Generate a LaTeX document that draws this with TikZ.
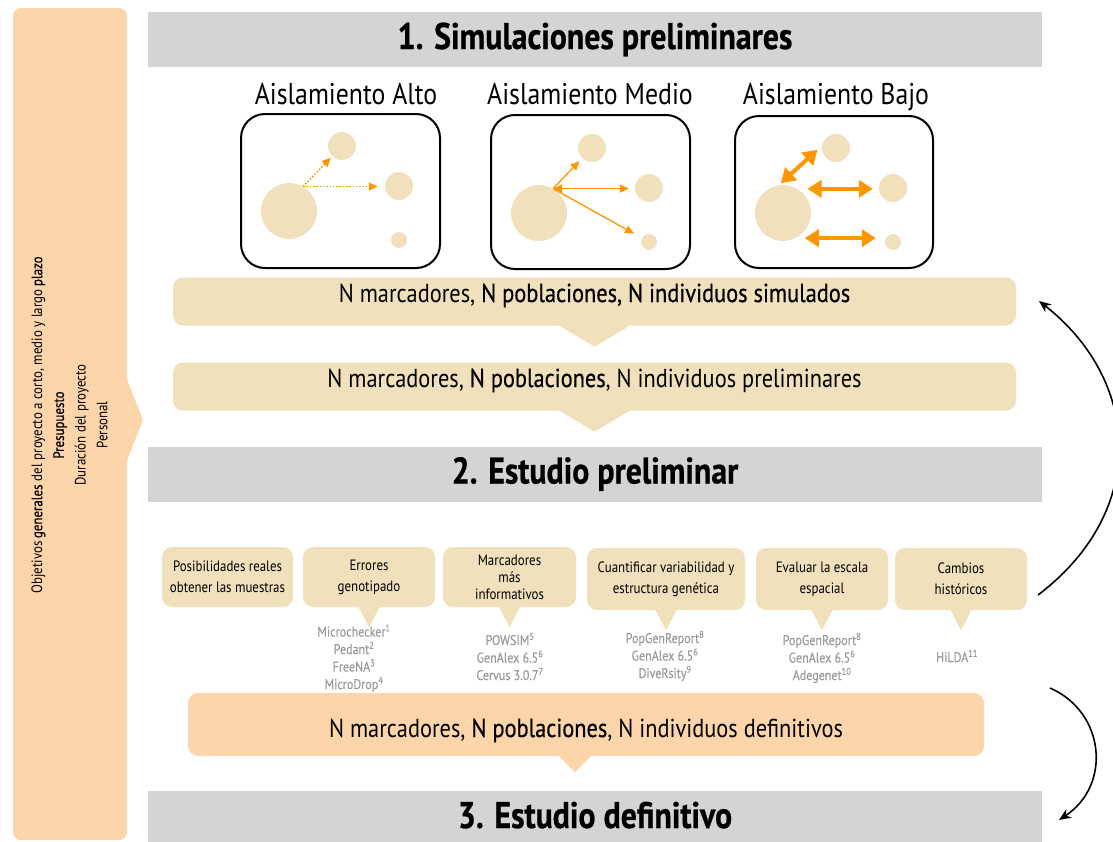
\documentclass[tikz,border=0pt]{standalone}
\usepackage{fontspec}
\setmainfont{PT Sans}[FakeStretch=0.86,BoldFeatures={FakeBold=0.6}]
\newfontfamily\semib{PT Sans}[FakeStretch=0.86,FakeBold=0.5]
\usetikzlibrary{arrows.meta}
\definecolor{hdrgray}{HTML}{D4D4D4}
\definecolor{beige}{HTML}{F0E1BC}
\definecolor{peach}{HTML}{FDD5AA}
\definecolor{orng}{HTML}{FF9500}
\definecolor{softgray}{HTML}{9B9B9B}
\begin{document}
\begin{tikzpicture}[x=1pt,y=-1pt,
 hdr/.style={fill=hdrgray,minimum width=894pt,minimum height=55pt,inner sep=0pt,text height=26pt,text depth=7pt,font=\bfseries\fontsize{37}{40}\selectfont},
 sub/.style={anchor=base,inner sep=0pt,font=\fontsize{30}{32}\selectfont},
 panel/.style={draw=black,line width=2pt,rounded corners=24pt,minimum width=199pt,minimum height=154pt,inner sep=0pt},
 blob/.style={circle,fill=beige,inner sep=0pt},
 bigbox/.style={fill=beige,rounded corners=10pt,minimum width=843pt,minimum height=48pt,inner sep=0pt},
 boxtxt/.style={anchor=base,inner sep=0pt,font=\fontsize{26}{28}\selectfont},
 smallbox/.style={fill=beige,rounded corners=10pt,minimum width=132pt,minimum height=60pt,align=center,inner sep=2pt,font=\fontsize{15}{21}\selectfont},
 soft/.style={anchor=base,align=center,inner sep=0pt,text=softgray,font=\semib\fontsize{14}{17.5}\selectfont},
 dotarrow/.style={orng,line width=1.5pt,dash pattern=on 1.5pt off 1.8pt,-{Triangle[length=9pt,width=8pt]}},
 thinarrow/.style={orng,line width=1.3pt,-{Triangle[length=9pt,width=8pt]}},
 fatarrow/.style={orng,line width=4pt,{Triangle[length=14pt,width=17pt]}-{Triangle[length=14pt,width=17pt]}},
 curvearrow/.style={black,line width=1.6pt,-{Stealth[length=12pt,width=10pt]}}
]
\useasboundingbox (0,0) rectangle (1113,841);
\clip (0,0) rectangle (1113,841);

% left bar
\fill[peach,rounded corners=8pt] (13,8) rectangle (127,840);
\fill[peach] (126,377) -- (143,420) -- (126,463) -- cycle;
\node[rotate=90,align=center,inner sep=0pt,font=\fontsize{15}{21.7}\selectfont] (lefttxt) at (69.5,425)
 {Objetivos {\semib generales} del proyecto a corto, medio y largo {\semib plazo}\\{\semib Presupuesto}\\Duración del proyecto\\Personal};

% headers
\node[hdr] (h1) at (595,39.5) {1. Simulaciones preliminares};
\node[hdr] (h2) at (595,474) {2. Estudio preliminar};
\node[hdr] (h3) at (595,818.5) {3. Estudio definitivo};

% subtitles
\node[sub] (s1) at (346,104) {Aislamiento Alto};
\node[sub] (s2) at (590,104) {Aislamiento Medio};
\node[sub] (s3) at (836,104) {Aislamiento Bajo};

% panels
\node[panel] (p1) at (340.5,191) {};
\node[panel] (p2) at (590.5,192) {};
\node[panel,minimum width=198pt,minimum height=152pt] (p3) at (834,192) {};

% circles
\node[blob,minimum size=56pt] (c1big) at (289,211) {};
\node[blob,minimum size=28pt] (c1top) at (342,146) {};
\node[blob,minimum size=28pt] (c1right) at (399,186) {};
\node[blob,minimum size=16pt] (c1small) at (399,240) {};
\node[blob,minimum size=56pt] (c2big) at (539,213) {};
\node[blob,minimum size=28pt] (c2top) at (592,148) {};
\node[blob,minimum size=28pt] (c2right) at (649,188) {};
\node[blob,minimum size=16pt] (c2small) at (649,242) {};
\node[blob,minimum size=56pt] (c3big) at (783,213) {};
\node[blob,minimum size=28pt] (c3top) at (836,148) {};
\node[blob,minimum size=28pt] (c3right) at (893,188) {};
\node[blob,minimum size=16pt] (c3small) at (893,242) {};

% panel 1 arrows
\draw[dotarrow,shorten >=2pt] (c1big.60) -- (c1top);
\draw[dotarrow,shorten >=7pt] (c1big.60) -- (c1big.60 -| c1right.west);
% panel 2 arrows
\draw[thinarrow,shorten >=4pt] (c2big.60) -- (c2top);
\draw[thinarrow,{Triangle[length=9pt,width=8pt]}-{Triangle[length=9pt,width=8pt]},shorten >=6pt] (c2big.60) -- (c2big.60 -| c2right.west);
\draw[thinarrow,shorten >=9pt] (c2big.60) -- (c2small);
% panel 3 arrows
\draw[fatarrow,shorten <=3pt,shorten >=6pt] (c3big.99) -- (c3top.171);
\draw[fatarrow,shorten <=10pt,shorten >=6pt] (c3big.59) -- (c3big.59 -| c3right.west);
\draw[fatarrow,shorten <=9pt,shorten >=9pt] (c3big.-63) -- (c3big.-63 -| c3small.west);

% big beige boxes
\node[bigbox] (b1) at (594.5,301.5) {};
\fill[beige] ([xshift=-37pt,yshift=1pt]b1.south) -- ([xshift=37pt,yshift=1pt]b1.south) -- ([yshift=-21pt]b1.south) -- cycle;
\node[boxtxt] (b1t) at (594.5,302) {N marcadores, {\semib N poblaciones, N individuos simulados}};
\node[bigbox] (b2) at (594.5,386.5) {};
\fill[beige] ([xshift=-37pt,yshift=1pt]b2.south) -- ([xshift=37pt,yshift=1pt]b2.south) -- ([yshift=-21pt]b2.south) -- cycle;
\node[boxtxt] (b2t) at (594.5,387) {N marcadores, {\semib N poblaciones}, N individuos preliminares};

% small boxes
\node[smallbox,minimum width=131pt] (sa) at (227.5,577) {Posibilidades reales\\obtener las muestras};
\node[smallbox] (sb) at (369,577) {Errores\\genotipado};
\node[smallbox,minimum width=133pt,font=\fontsize{15}{17}\selectfont] (sc) at (509.5,577) {Marcadores\\más\\informativos};
\node[smallbox,minimum width=158pt,minimum height=62pt] (sd) at (666,579) {Cuantificar variabilidad y\\estructura genética};
\node[smallbox,minimum height=62pt] (se) at (822,579) {Evaluar la escala\\espacial};
\node[smallbox,minimum height=62pt] (sf) at (961,579) {Cambios\\históricos};
\foreach \n in {sb,sc,sd,se,sf}{
  \fill[beige] ([xshift=-11pt,yshift=1pt]\n.south) -- ([xshift=11pt,yshift=1pt]\n.south) -- ([yshift=-20pt]\n.south) -- cycle;
}

% software lists (anchor = baseline of last line)
\node[soft] (lb) at (354,689) {Microchecker\textsuperscript{1}\\Pedant\textsuperscript{2}\\FreeNA\textsuperscript{3}\\MicroDrop\textsuperscript{4}};
\node[soft] (lc) at (510,680) {POWSIM\textsuperscript{5}\\GenAlex 6.5\textsuperscript{6}\\Cervus 3.0.7\textsuperscript{7}};
\node[soft] (ld) at (665,678) {PopGenReport\textsuperscript{8}\\GenAlex 6.5\textsuperscript{6}\\DiveRsity\textsuperscript{9}};
\node[soft] (le) at (822,680) {PopGenReport\textsuperscript{8}\\GenAlex 6.5\textsuperscript{6}\\Adegenet\textsuperscript{10}};
\node[soft] (lf) at (957,662) {HiLDA\textsuperscript{11}};

% orange box
\node[fill=peach,rounded corners=10pt,minimum width=796pt,minimum height=63pt,inner sep=0pt] (b3) at (586,724.5) {};
\fill[peach] (558,755) -- (592,755) -- (575,772) -- cycle;
\node[boxtxt] (b3t) at (586,737) {N marcadores, {\semib N poblaciones}, N individuos definitivos};

% curved arrows
\coordinate (r1s) at (1038,595);
\coordinate (r1e) at (1039,301);
\draw[curvearrow] (r1s) .. controls (1150,510) and (1140,380) .. (r1e);
\coordinate (r2s) at (1050,688);
\coordinate (r2e) at (1059,820);
\draw[curvearrow] (r2s) .. controls (1105,712) and (1112,785) .. (r2e);
\end{tikzpicture}
\end{document}
